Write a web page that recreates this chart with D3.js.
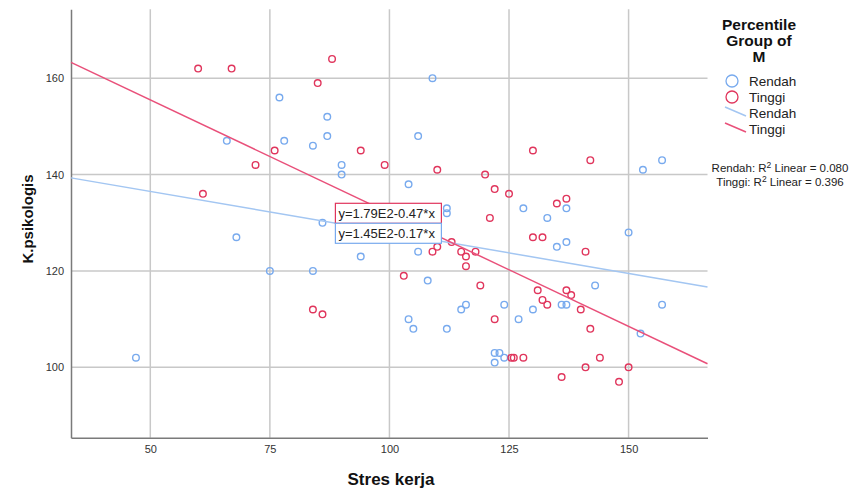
<!DOCTYPE html>
<html>
<head>
<meta charset="utf-8">
<script src="https://cdn.jsdelivr.net/npm/d3@7"></script>
<style>
  body { margin: 0; background: #fff; }
  text { font-family: "Liberation Sans", Arial, sans-serif; }
</style>
</head>
<body>
<div id="chart"></div>
<script>
// Stres kerja (x) vs K.psikologis (y), grouped by percentile group of M
var rendahPoints = [
  [47,102],[66,147],[68,127],[75,120],[77,156],[78,147],[84,146],[84,120],
  [86,130],[87,152],[87,148],[90,142],[90,140],[94,123],[104,138],[104,110],
  [105,108],[106,148],[106,124],[108,118],[109,160],[112,133],[112,132],[112,108],
  [115,112],[116,113],[122,103],[123,103],[122,101],[124,102],[124,113],[127,110],
  [128,133],[130,112],[133,131],[135,125],[136,113],[137,113],[137,133],[137,126],
  [143,117],[150,128],[153,141],[157,143],[152.5,107],[157,113]
];
var tinggiPoints = [
  [60,162],[67,162],[61,136],[72,142],[76,145],[84,112],[86,111],[85,159],
  [88,164],[94,145],[99,142],[103,119],[109,124],[110,125],[110,141],[113,126],
  [115,124],[116,123],[116,121],[118,124],[119,117],[120,140],[121,131],[122,137],
  [122,110],[125,136],[125.5,102],[126,102],[128,102],[130,145],[130,127],[132,127],
  [131,116],[132,114],[133,113],[135,134],[137,135],[137,116],[138,115],[140,112],
  [141,124],[142,143],[142,108],[144,102],[141,100],[136,98],[148,97],[150,100]
];
var groups = ["Rendah", "Tinggi"];
var intercepts = [145, 179];
var slopes = [-0.17, -0.47];
var equations = ["y=1.45E2-0.17*x", "y=1.79E2-0.47*x"];
var r2Values = ["0.080", "0.396"];
var xTicks = [50, 75, 100, 125, 150];
var yTicks = [100, 120, 140, 160];

var width = 851, height = 488;
var pointColor = { Rendah: "#78aaee", Tinggi: "#e0355c" };
var lineColor = { Rendah: "#a3c6f2", Tinggi: "#e9507a" };

var svg = d3.select("#chart").append("svg")
    .attr("width", width)
    .attr("height", height);

var x = d3.scaleLinear().domain([33.42, 166.5]).range([71, 707.5]);
var y = d3.scaleLinear().domain([85.4, 174.3]).range([437.7, 9.3]);

// grid
svg.append("g").selectAll("line")
    .data(xTicks)
    .enter().append("line")
    .attr("x1", function(d) { return x(d); })
    .attr("x2", function(d) { return x(d); })
    .attr("y1", y.range()[1])
    .attr("y2", y.range()[0])
    .style("stroke", "#c8c8c8")
    .style("stroke-width", 1.5);

svg.append("g").selectAll("line")
    .data(yTicks)
    .enter().append("line")
    .attr("x1", x.range()[0])
    .attr("x2", x.range()[1])
    .attr("y1", function(d) { return y(d); })
    .attr("y2", function(d) { return y(d); })
    .style("stroke", "#c8c8c8")
    .style("stroke-width", 1.5);

// axes
var xAxis = svg.append("g")
    .attr("transform", "translate(0," + y.range()[0] + ")")
    .call(d3.axisBottom(x).tickValues(xTicks).tickSize(0).tickPadding(8));
var yAxis = svg.append("g")
    .attr("transform", "translate(" + x.range()[0] + ",0)")
    .call(d3.axisLeft(y).tickValues(yTicks).tickSize(0).tickPadding(7));

[xAxis, yAxis].forEach(function(a) {
    a.select(".domain").style("stroke", "#7a7a7a").style("stroke-width", 1.5);
    a.selectAll("text").style("font-size", "11px").style("fill", "#333")
        .style("font-family", "'Liberation Sans', Arial, sans-serif");
});

svg.append("text")
    .attr("x", 391)
    .attr("y", 485)
    .attr("text-anchor", "middle")
    .style("font-size", "17px")
    .style("font-weight", "bold")
    .style("fill", "#111")
    .text("Stres kerja");

svg.append("text")
    .attr("transform", "translate(33,219) rotate(-90)")
    .attr("text-anchor", "middle")
    .style("font-size", "15px")
    .style("font-weight", "bold")
    .style("fill", "#111")
    .text("K.psikologis");

// points
var pointSets = [rendahPoints, tinggiPoints];
groups.forEach(function(g, i) {
    svg.append("g").selectAll("circle")
        .data(pointSets[i])
        .enter().append("circle")
        .attr("cx", function(d) { return x(d[0]); })
        .attr("cy", function(d) { return y(d[1]); })
        .attr("r", 3.3)
        .style("fill", "none")
        .style("stroke", pointColor[g])
        .style("stroke-width", 1.4);
});

// fit lines
var xd = x.domain();
groups.forEach(function(g, i) {
    svg.append("line")
        .attr("x1", x(xd[0]))
        .attr("y1", y(intercepts[i] + slopes[i] * xd[0]))
        .attr("x2", x(xd[1]))
        .attr("y2", y(intercepts[i] + slopes[i] * xd[1]))
        .style("stroke", lineColor[g])
        .style("stroke-width", 1.5);
});

// equation boxes (Tinggi on top, Rendah below)
var boxX = x(88.7), boxW = 106, boxH = 20;
[1, 0].forEach(function(i, k) {
    var top = 203.3 + k * boxH;
    svg.append("rect")
        .attr("x", boxX)
        .attr("y", top)
        .attr("width", boxW)
        .attr("height", boxH)
        .style("fill", "#fff")
        .style("stroke", pointColor[groups[i]])
        .style("stroke-width", 1.2);
    svg.append("text")
        .attr("x", boxX + 3)
        .attr("y", top + 15)
        .style("font-size", "13px")
        .style("fill", "#222")
        .text(equations[i]);
});

// legend
var legend = svg.append("g");
["Percentile", "Group of", "M"].forEach(function(t, i) {
    legend.append("text")
        .attr("x", 759)
        .attr("y", 30 + i * 16)
        .attr("text-anchor", "middle")
        .style("font-size", "15.5px")
        .style("font-weight", "bold")
        .style("fill", "#111")
        .text(t);
});

groups.forEach(function(g, i) {
    var cy = 81 + i * 16;
    legend.append("circle")
        .attr("cx", 732)
        .attr("cy", cy)
        .attr("r", 6)
        .style("fill", "none")
        .style("stroke", pointColor[g])
        .style("stroke-width", 1.3);
    legend.append("text")
        .attr("x", 749)
        .attr("y", cy + 5)
        .style("font-size", "13.5px")
        .style("fill", "#222")
        .text(g);
});

groups.forEach(function(g, i) {
    var cy = 113 + i * 16;
    legend.append("line")
        .attr("x1", 725)
        .attr("y1", cy - 6)
        .attr("x2", 746)
        .attr("y2", cy + 3)
        .style("stroke", lineColor[g])
        .style("stroke-width", 1.5);
    legend.append("text")
        .attr("x", 749)
        .attr("y", cy + 5)
        .style("font-size", "13.5px")
        .style("fill", "#222")
        .text(g);
});

groups.forEach(function(g, i) {
    var t = legend.append("text")
        .attr("x", 780)
        .attr("y", 172 + i * 14)
        .attr("text-anchor", "middle")
        .style("font-size", "11.5px")
        .style("fill", "#222");
    t.append("tspan").text(g + ": R");
    t.append("tspan").attr("dy", -4).style("font-size", "8.5px").text("2");
    t.append("tspan").attr("dy", 4).text(" Linear = " + r2Values[i]);
});
</script>
</body>
</html>
